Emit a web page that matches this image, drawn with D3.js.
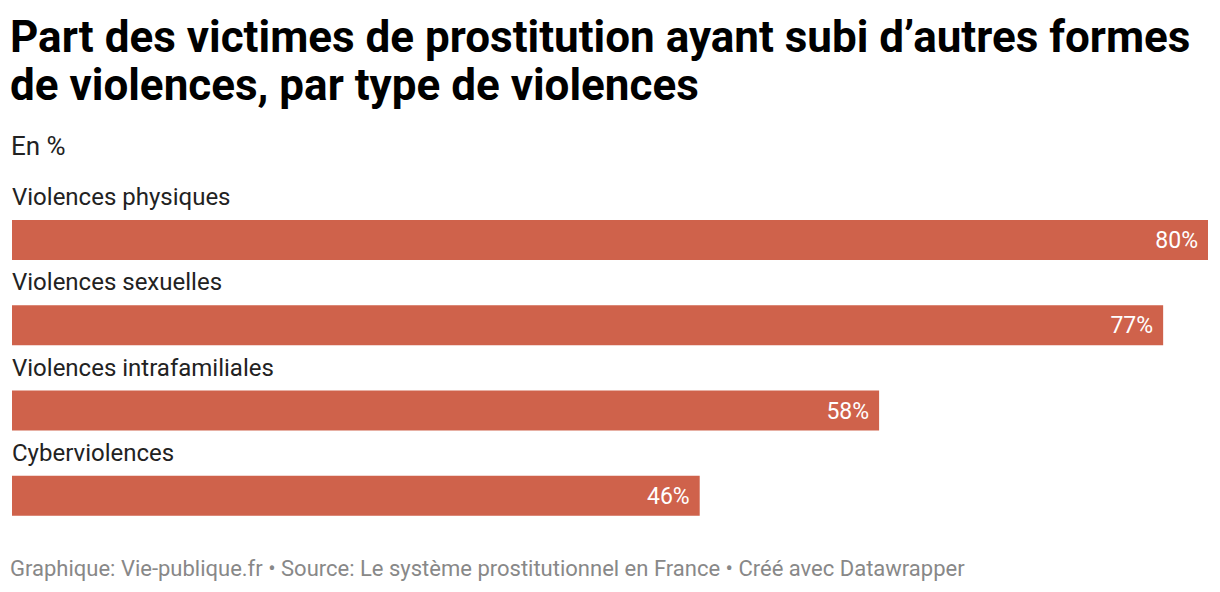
<!DOCTYPE html>
<html>
<head>
<meta charset="utf-8">
<script src="https://cdn.jsdelivr.net/npm/d3@7"></script>
<style>
  body { margin: 0; background: #fff; }
  svg text { font-family: Roboto, sans-serif; }
</style>
</head>
<body>
<div id="chart"></div>
<script>
const categories = ["Violences physiques", "Violences sexuelles", "Violences intrafamiliales", "Cyberviolences"];
const values = [80, 77, 58, 46];
const titleLines = ["Part des victimes de prostitution ayant subi d’autres formes", "de violences, par type de violences"];
const subtitle = "En %";
const footer = "Graphique: Vie-publique.fr • Source: Le système prostitutionnel en France • Créé avec Datawrapper";

const width = 1220, height = 592;

const svg = d3.select("#chart")
    .append("svg")
    .attr("width", width)
    .attr("height", height);

svg.selectAll(".title")
    .data(titleLines)
    .join("text")
    .attr("class", "title")
    .attr("x", 10)
    .attr("y", (d, i) => 52 + i * 48)
    .attr("font-size", 44)
    .attr("font-weight", 700)
    .attr("fill", "#000")
    .text(d => d);

svg.append("text")
    .attr("x", 11)
    .attr("y", 155)
    .attr("font-size", 26)
    .attr("fill", "#222")
    .text(subtitle);

const x = d3.scaleLinear().domain([0, 80]).range([12, 1208]);
const y = d3.scaleBand().domain(categories).range([178, 519]).paddingInner(0);

const rows = svg.selectAll(".row")
    .data(categories)
    .join("g")
    .attr("class", "row")
    .attr("transform", d => `translate(0,${y(d)})`);

rows.append("text")
    .attr("x", 12)
    .attr("y", 27)
    .attr("font-size", 24)
    .attr("fill", "#222")
    .text(d => d);

rows.append("rect")
    .attr("x", x(0))
    .attr("y", 42)
    .attr("width", (d, i) => x(values[i]) - x(0))
    .attr("height", 40)
    .attr("fill", "#cf624b");

rows.append("text")
    .attr("x", (d, i) => x(values[i]) - 10)
    .attr("y", 70)
    .attr("text-anchor", "end")
    .attr("font-size", 23)
    .attr("fill", "#fff")
    .text((d, i) => values[i] + "%");

svg.append("text")
    .attr("x", 10)
    .attr("y", 576)
    .attr("font-size", 22)
    .attr("fill", "#888")
    .text(footer);
</script>
</body>
</html>
